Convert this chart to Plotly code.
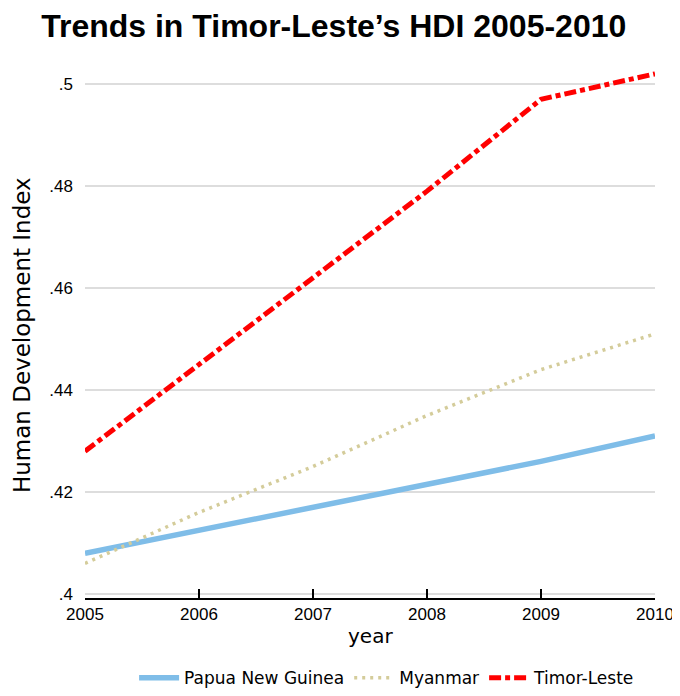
import plotly.graph_objects as go

years = [2005, 2006, 2007, 2008, 2009, 2010]
png = [0.408, 0.4125, 0.417, 0.4217, 0.426, 0.431]
myanmar = [0.406, 0.416, 0.425, 0.435, 0.444, 0.451]
timor = [0.428, 0.445, 0.462, 0.479, 0.497, 0.502]
ytick_vals = [0.4, 0.42, 0.44, 0.46, 0.48, 0.5]
ytick_text = [".4", ".42", ".44", ".46", ".48", ".5"]

fig = go.Figure()
fig.add_trace(go.Scatter(x=years, y=png, mode="lines", name="Papua New Guinea",
                         line=dict(color="#7fbde8", width=5.5)))
fig.add_trace(go.Scatter(x=years, y=myanmar, mode="lines", name="Myanmar",
                         line=dict(color="#d4cc9a", width=3.5, dash="3px,5px")))
fig.add_trace(go.Scatter(x=years, y=timor, mode="lines", name="Timor-Leste",
                         line=dict(color="#ff0000", width=5, dash="12px,4px,5px,4px")))

fig.update_layout(
    width=680, height=696,
    paper_bgcolor="white", plot_bgcolor="white",
    margin=dict(l=77, r=33, t=62, b=106, autoexpand=False),
    font=dict(family="Liberation Sans, Arial, sans-serif", color="black"),
    title=dict(text="<b>Trends in Timor-Leste\u2019s HDI 2005-2010</b>",
               x=0.479, xref="container", xanchor="center",
               y=1 - 18 / 696, yref="container", yanchor="middle",
               font=dict(size=32)),
    showlegend=True,
    legend=dict(orientation="h", x=0.53, xanchor="center", y=-0.152, yanchor="middle",
                font=dict(family="DejaVu Sans, sans-serif", size=17), itemwidth=40,
                tracegroupgap=0),
    annotations=[
        dict(text="Human Development Index", xref="paper", yref="paper",
             x=-0.1105, y=0.498, xanchor="center", yanchor="middle", textangle=-90,
             showarrow=False, font=dict(family="DejaVu Sans, sans-serif", size=23)),
        dict(text="year", xref="paper", yref="paper",
             x=0.5, y=-0.072, xanchor="center", yanchor="middle",
             showarrow=False, font=dict(family="DejaVu Sans, sans-serif", size=20)),
    ],
)
fig.update_xaxes(range=[2005, 2010], tickvals=years, showgrid=False,
                 showline=True, linecolor="black", linewidth=1.5,
                 ticks="inside", ticklen=9, tickcolor="black", tickwidth=1.5,
                 tickfont=dict(size=17))
fig.update_yaxes(range=[0.39922, 0.50275], tickvals=ytick_vals, ticktext=ytick_text,
                 showgrid=True, gridcolor="#dddddd", gridwidth=1.5, zeroline=False,
                 showline=False, ticks="", ticklabelstandoff=11, tickfont=dict(size=17))

fig.write_html("out.html")
